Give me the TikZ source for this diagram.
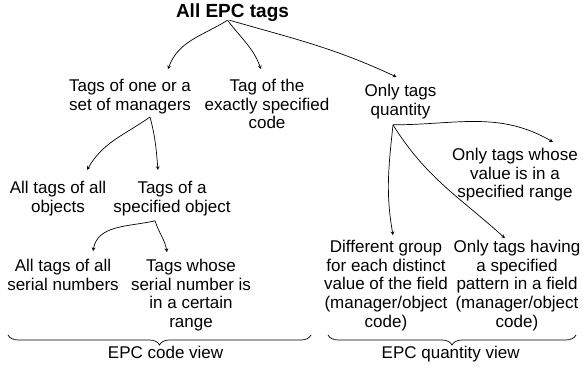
\documentclass[tikz,border=0pt]{standalone}
\usepackage{fontspec}
\setmainfont{Liberation Sans}
\usepackage{tikz}
\usetikzlibrary{decorations.pathreplacing}

\begin{document}
\begin{tikzpicture}[>=stealth, x=1pt, y=-1pt,
    txt/.style={align=center, anchor=base, inner sep=0pt,
      font=\fontsize{17}{18.6}\selectfont},
    conn/.style={->, line width=0.7pt},
    brc/.style={decorate, decoration={brace, mirror, amplitude=10pt}, line width=0.7pt}]
  \useasboundingbox (0,0) rectangle (583,372);
  % tree of tag sets (base = last line)
  \node[txt, font=\fontsize{19}{21}\selectfont\bfseries] (all) at (232.5,17) {All EPC tags};
  \node[txt] (mgr) at (130,110.3) {Tags of one or a\\set of managers};
  \node[txt] (code) at (267,128.9) {Tag of the\\exactly specified\\code};
  \node[txt] (qty) at (400.5,115.1) {Only tags\\quantity};
  \node[txt] (objall) at (58,212.1) {All tags of all\\objects};
  \node[txt] (obj) at (172,212.1) {Tags of a\\specified object};
  \node[txt] (serall) at (63,290.3) {All tags of all\\serial numbers};
  \node[txt] (serrange) at (191,327.5) {Tags whose\\serial number is\\in a certain\\range};
  \node[txt] (valrange) at (515,197.7) {Only tags whose\\value is in a\\specified range};
  \node[txt] (group) at (386,327.1) {Different group\\for each distinct\\value of the field\\(manager/object\\code)};
  \node[txt] (pattern) at (517,327.1) {Only tags having\\a specified\\pattern in a field\\(manager/object\\code)};
  \node[txt] (codeview) at (165.6,358) {EPC code view};
  \node[txt] (qtyview) at (450.7,358) {EPC quantity view};

  \draw[conn] ([shift={(-5pt,1pt)}]all.south) to[out=212,in=70] ([shift={(38pt,10pt)}]mgr.north);
  \draw[conn] ([shift={(-5pt,1pt)}]all.south) to[out=-53,in=110] ([shift={(-6pt,10pt)}]code.north);
  \draw[conn] ([shift={(-3pt,1pt)}]all.south) to[out=-16,in=155] ([shift={(-4pt,7pt)}]qty.north);
  \draw[conn] ([shift={(20pt,-3pt)}]mgr.south) to[out=215,in=60] ([shift={(29pt,11pt)}]objall.north);
  \draw[conn] ([shift={(20pt,-3pt)}]mgr.south) to[out=-75,in=95] ([shift={(-14pt,11pt)}]obj.north);
  \draw[conn] ([shift={(-17pt,-5pt)}]obj.south) to[out=193,in=80] ([shift={(30pt,8pt)}]serall.north);
  \draw[conn] ([shift={(-17pt,-5pt)}]obj.south) to[out=-72,in=100] ([shift={(-24pt,7pt)}]serrange.north);
  \draw[conn] ([shift={(-7.5pt,-6pt)}]qty.south) to[out=0,in=150] ([shift={(38pt,6pt)}]valrange.north);
  \draw[conn] ([shift={(-7.5pt,-6pt)}]qty.south) to[out=-96,in=100] ([shift={(7pt,5pt)}]group.north);
  \draw[conn] ([shift={(-7.5pt,-6pt)}]qty.south) to[out=-58,in=138] ([shift={(-12pt,2pt)}]pattern.north);

  % the two views
  \draw[brc] (8,335) -- (311,335);
  \draw[brc] (328,335) -- (576,335);
\end{tikzpicture}
\end{document}
